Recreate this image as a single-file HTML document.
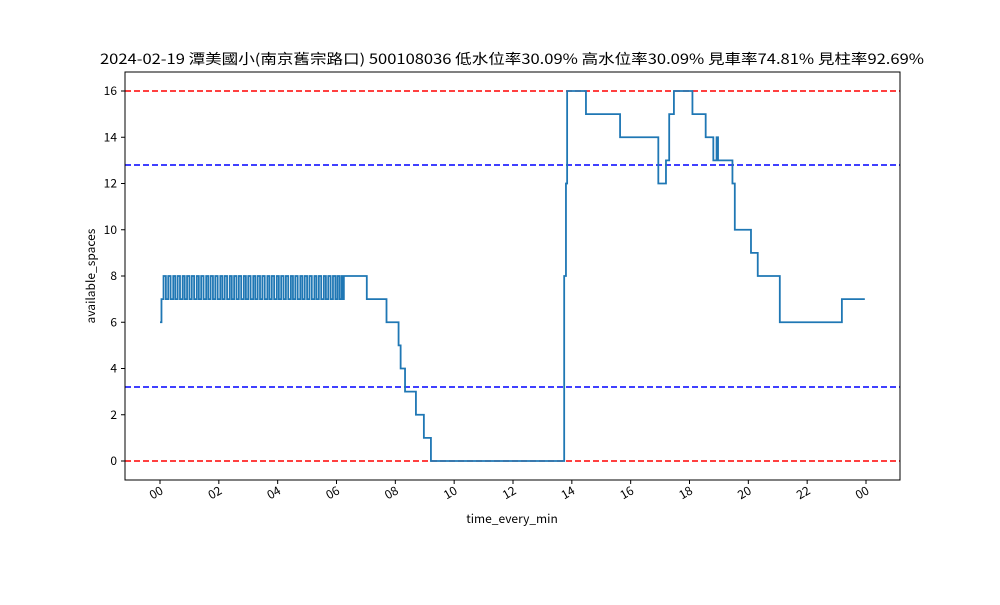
<!DOCTYPE html>
<html><head><meta charset="utf-8"><style>
body{margin:0;background:#fff}
svg text{font-family:"WenQuanYi Zen Hei","Noto Sans CJK TC",monospace;fill:#000}
</style></head><body>
<svg id="c" width="1000" height="600" xmlns="http://www.w3.org/2000/svg">
<rect width="1000" height="600" fill="#fff"/>
<text x="512" y="64" font-size="14" text-anchor="middle" textLength="824" lengthAdjust="spacingAndGlyphs">2024-02-19 潭美國小(南京舊宗路口) 500108036 低水位率30.09% 高水位率30.09% 見車率74.81% 見柱率92.69%</text>
<g id="grid"></g>
<g id="lines"></g>
<rect x="125" y="72" width="775" height="408" fill="none" stroke="#000" stroke-width="1"/>
<g id="ticks"></g>
<text x="512" y="523" font-size="12" text-anchor="middle">time_every_min</text>
<text transform="translate(95,276) rotate(-90)" font-size="12" text-anchor="middle">available_spaces</text>
</svg>
<script>
const yTicks=[0,2,4,6,8,10,12,14,16];
const xTickHours=[0,2,4,6,8,10,12,14,16,18,20,22,24];
const xTickLabels=["00","02","04","06","08","10","12","14","16","18","20","22","00"];
const refRed=[0,16];
const refBlue=[3.2,12.8];
// [hour, value] step points
const stepPoints=[[0,6],[0.05,7],[0.12,8],[0.2,7],[0.28,8],[0.36,7],[0.45,8],[0.52,7],[0.6,8],[0.68,7],[0.77,8],[0.84,7],[0.92,8],[1.0,7],[1.08,8],[1.16,7],[1.25,8],[1.32,7],[1.4,8],[1.48,7],[1.57,8],[1.64,7],[1.72,8],[1.8,7],[1.88,8],[1.96,7],[2.05,8],[2.12,7],[2.2,8],[2.28,7],[2.37,8],[2.44,7],[2.52,8],[2.6,7],[2.68,8],[2.76,7],[2.85,8],[2.92,7],[3.0,8],[3.08,7],[3.17,8],[3.24,7],[3.32,8],[3.4,7],[3.48,8],[3.56,7],[3.65,8],[3.72,7],[3.8,8],[3.88,7],[3.97,8],[4.04,7],[4.12,8],[4.2,7],[4.28,8],[4.36,7],[4.45,8],[4.52,7],[4.6,8],[4.68,7],[4.77,8],[4.84,7],[4.92,8],[5.0,7],[5.08,8],[5.16,7],[5.25,8],[5.32,7],[5.4,8],[5.48,7],[5.57,8],[5.64,7],[5.72,8],[5.8,7],[5.88,8],[5.96,7],[6.03,8],[6.1,7],[6.17,8],[6.22,7],[6.25,8],[7.03,7],[7.7,6],[8.11,5],[8.18,4],[8.33,3],[8.7,2],[8.97,1],[9.21,0],[13.74,8],[13.8,12],[13.84,16],[14.48,15],[15.64,14],[16.94,12],[17.2,13],[17.31,15],[17.47,16],[18.1,15],[18.55,14],[18.81,13],[18.92,14],[18.97,13],[19.46,12],[19.54,10],[20.09,9],[20.32,8],[21.07,6],[23.18,7],[23.96,7]];
const X=h=>160+h*(706/24);
const Y=v=>461-v*(370/16);
const NS="http://www.w3.org/2000/svg";
function mk(tag,attrs,parent){const e=document.createElementNS(NS,tag);for(const k in attrs)e.setAttribute(k,attrs[k]);document.getElementById(parent).appendChild(e);return e;}
refRed.forEach(v=>{const l=mk('line',{x1:125,x2:900,y1:Y(v),y2:Y(v),stroke:'#ff0000','stroke-width':1.6,'stroke-dasharray':'6,3'},'grid');

});
refBlue.forEach(v=>{const l=mk('line',{x1:125,x2:900,y1:Y(v),y2:Y(v),stroke:'#0000ff','stroke-width':1.6,'stroke-dasharray':'6,3'},'grid');

});
let d='';
stepPoints.forEach((pt,i)=>{
  const x=X(pt[0]),y=Y(pt[1]);
  if(i===0)d+='M'+x+','+y;else d+='H'+x+'V'+y;
});
const p=mk('path',{d:d,fill:'none',stroke:'#1f77b4','stroke-width':1.8},'lines');


yTicks.forEach(v=>{
  const t=mk('line',{x1:121,x2:125,y1:Y(v),y2:Y(v),stroke:'#000'},'ticks');
  
  
  const tx=mk('text',{x:117,y:Y(v)+4,'font-size':12,'text-anchor':'end'},'ticks');
  tx.textContent=v;
  
  
});
xTickHours.forEach((h,i)=>{
  const x=X(h);
  const t=mk('line',{x1:x,x2:x,y1:480,y2:484,stroke:'#000'},'ticks');
  
  
  const tx=mk('text',{x:x+4,y:493,'font-size':12,'text-anchor':'end',transform:`rotate(-30 ${x+4} 493)`},'ticks');
  tx.textContent=xTickLabels[i];
  
  
});
</script>
</body></html>
